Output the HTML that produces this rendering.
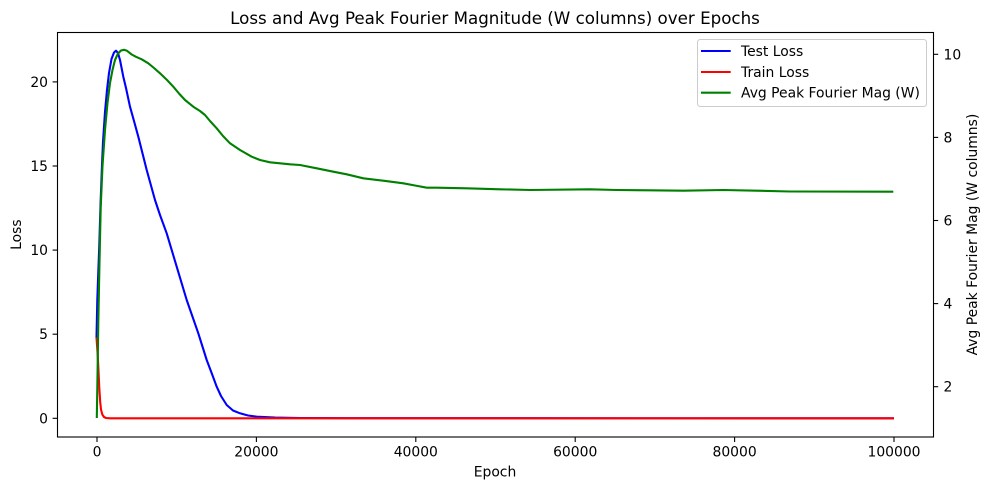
<!DOCTYPE html>
<html>
<head>
<meta charset="utf-8">
<style>
html,body{margin:0;padding:0;background:#fff;}
svg{display:block;}
text{font-family:"DejaVu Sans","Liberation Sans",sans-serif;fill:#000;}
</style>
</head>
<body>
<svg width="989" height="490" viewBox="0 0 989 490" xmlns="http://www.w3.org/2000/svg">
<rect x="0" y="0" width="989" height="490" fill="#fff"/>
<text x="495" y="24" font-size="16.7" text-anchor="middle">Loss and Avg Peak Fourier Magnitude (W columns) over Epochs</text>

<!-- series -->
<g fill="none" stroke-width="2.1" stroke-linejoin="round" stroke-linecap="butt">
<polyline stroke="#0000ff" points="96.5,337.6 97.3,300 98.2,275 99.3,245 100.5,205 102,165 103,142 105,112 107,90 109,73 111.5,59 114,52.5 116,50.7 118,53 120,60 123.3,76.7 126,88 130,106.7 134,121 138.3,136.7 146.7,170 155,200 160,215 166.7,233.3 176.7,266.7 186.7,300 198.3,333.3 206.7,360 212,374 216.7,386.7 221,396 226.7,405 233,410.5 240,413.3 248,415.5 256.7,416.7 275,417.6 300,418 350,418.2 894,418.3"/>
<polyline stroke="#ff0000" points="96.5,337.6 97.5,352 98.3,366.7 99.3,388 100.2,402 101,409.5 102.3,414.5 104,417 106,418 110,418.3 894,418.3"/>
<polyline stroke="#008000" points="96.8,418 97.6,370 98.3,322 99.5,262 100.7,208 102.5,166 105,130 107.5,103 110,83 112.5,70 115,60 118,53.5 121,50.5 124,49.8 127,50.8 131.7,54.5 136,56.8 141.7,59.3 148.3,63.3 154,68 160,73.3 167,80 173.3,86.7 179,93.5 185,100 193.3,106.7 200,111 205,115 210,121 216.7,128.3 223,136 230,143.3 240,150 251.7,156.7 260,160 270,162.3 290,164.3 300,165 316.7,168.3 333.3,171.7 346.7,174.3 363.3,178.3 383.3,180.7 403.3,183.3 415,185.5 426.7,187.7 436.7,187.7 466.7,188.3 500,189.3 530,190 590,189.3 616.7,190 650,190.3 683.3,190.7 723.3,190 756.7,190.7 790,191.5 893.3,191.7"/>
</g>

<!-- spines -->
<rect x="57.5" y="32.5" width="876" height="404.5" fill="none" stroke="#000" stroke-width="1.1"/>

<!-- x ticks -->
<g stroke="#000" stroke-width="1.1">
<line x1="97" y1="437" x2="97" y2="442"/>
<line x1="256.4" y1="437" x2="256.4" y2="442"/>
<line x1="415.8" y1="437" x2="415.8" y2="442"/>
<line x1="575.2" y1="437" x2="575.2" y2="442"/>
<line x1="734.6" y1="437" x2="734.6" y2="442"/>
<line x1="894" y1="437" x2="894" y2="442"/>
<!-- left y ticks -->
<line x1="52.6" y1="418.3" x2="57.5" y2="418.3"/>
<line x1="52.6" y1="334.2" x2="57.5" y2="334.2"/>
<line x1="52.6" y1="250.1" x2="57.5" y2="250.1"/>
<line x1="52.6" y1="166" x2="57.5" y2="166"/>
<line x1="52.6" y1="81.9" x2="57.5" y2="81.9"/>
<!-- right y ticks -->
<line x1="933.3" y1="386.7" x2="938.2" y2="386.7"/>
<line x1="933.3" y1="303.6" x2="938.2" y2="303.6"/>
<line x1="933.3" y1="220.5" x2="938.2" y2="220.5"/>
<line x1="933.3" y1="137.4" x2="938.2" y2="137.4"/>
<line x1="933.3" y1="54.3" x2="938.2" y2="54.3"/>
</g>

<g font-size="13.9" text-anchor="middle">
<text x="97" y="456.7">0</text>
<text x="256.4" y="456.7">20000</text>
<text x="415.8" y="456.7">40000</text>
<text x="575.2" y="456.7">60000</text>
<text x="734.6" y="456.7">80000</text>
<text x="894" y="456.7">100000</text>
</g>
<g font-size="13.9" text-anchor="end">
<text x="48" y="423.3">0</text>
<text x="48" y="339.2">5</text>
<text x="48" y="255.1">10</text>
<text x="48" y="171">15</text>
<text x="48" y="86.9">20</text>
</g>
<g font-size="13.9" text-anchor="start">
<text x="943.5" y="391.7">2</text>
<text x="943.5" y="308.6">4</text>
<text x="943.5" y="225.5">6</text>
<text x="943.5" y="142.4">8</text>
<text x="943.5" y="59.3">10</text>
</g>

<text x="495" y="476.7" font-size="13.9" text-anchor="middle">Epoch</text>
<text transform="translate(21,234.6) rotate(-90)" font-size="13.9" text-anchor="middle">Loss</text>
<text transform="translate(977,234.6) rotate(-90)" font-size="13.9" text-anchor="middle">Avg Peak Fourier Mag (W columns)</text>

<!-- legend -->
<rect x="697.5" y="39.5" width="229" height="67" rx="2.8" ry="2.8" fill="#fff" fill-opacity="0.8" stroke="#cccccc" stroke-width="1"/>
<line x1="701" y1="51" x2="730.7" y2="51" stroke="#0000ff" stroke-width="2.1"/>
<line x1="701" y1="72" x2="730.7" y2="72" stroke="#ff0000" stroke-width="2.1"/>
<line x1="701" y1="92.7" x2="730.7" y2="92.7" stroke="#008000" stroke-width="2.1"/>
<g font-size="13.9">
<text x="741" y="56">Test Loss</text>
<text x="741" y="77">Train Loss</text>
<text x="741" y="97.7">Avg Peak Fourier Mag (W)</text>
</g>
</svg>
</body>
</html>
